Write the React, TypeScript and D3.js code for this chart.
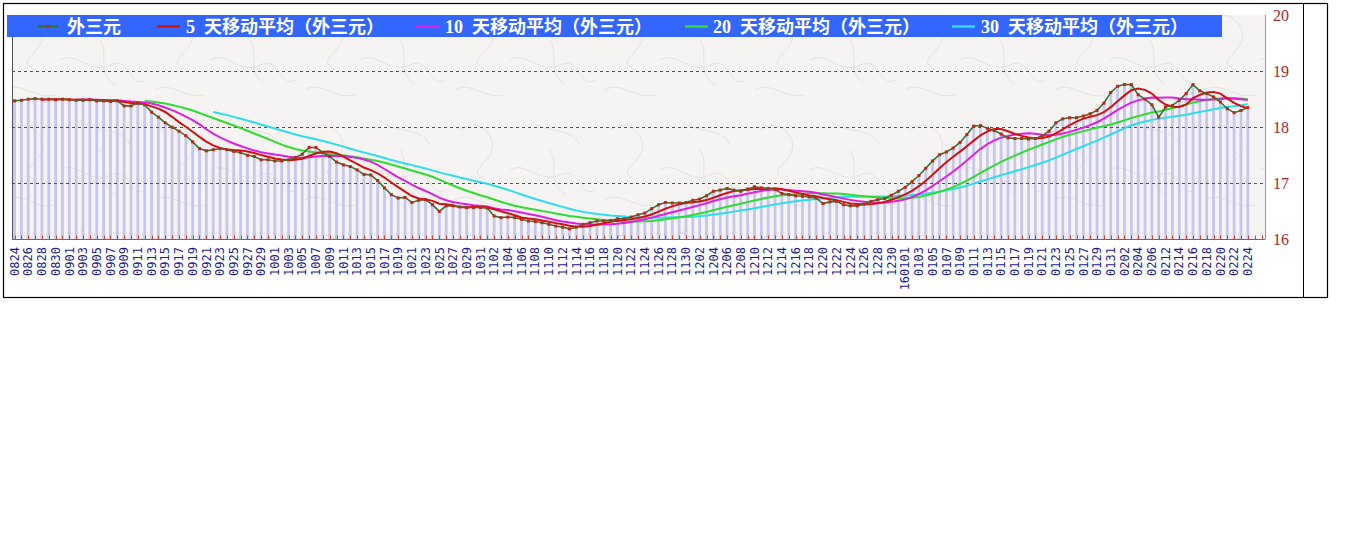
import React, { Component } from 'react';
import * as d3 from 'd3';

// 外三元 daily price, 0824 .. 0224
const price: number[] = [
  18.47, 18.48, 18.50, 18.51, 18.50, 18.50, 18.49, 18.50, 18.49, 18.48,
  18.48, 18.49, 18.47, 18.47, 18.46, 18.47, 18.38, 18.38, 18.43, 18.40,
  18.27, 18.18, 18.08, 18.00, 17.93, 17.85, 17.74, 17.62, 17.58, 17.60,
  17.62, 17.60, 17.57, 17.55, 17.50, 17.48, 17.42, 17.42, 17.40, 17.40,
  17.42, 17.46, 17.52, 17.64, 17.64, 17.55, 17.48, 17.38, 17.33, 17.30,
  17.24, 17.16, 17.15, 17.05, 16.92, 16.80, 16.74, 16.75, 16.66, 16.70,
  16.71, 16.62, 16.50, 16.60, 16.60, 16.58, 16.57, 16.57, 16.57, 16.56,
  16.42, 16.39, 16.40, 16.39, 16.36, 16.33, 16.32, 16.30, 16.27, 16.24,
  16.22, 16.19, 16.22, 16.27, 16.30, 16.33, 16.33, 16.34, 16.37, 16.37,
  16.40, 16.44, 16.47, 16.55, 16.62, 16.66, 16.65, 16.65, 16.66, 16.70,
  16.72, 16.78, 16.86, 16.88, 16.91, 16.88, 16.86, 16.90, 16.94, 16.92,
  16.91, 16.89, 16.82, 16.80, 16.78, 16.77, 16.76, 16.74, 16.64, 16.67,
  16.68, 16.62, 16.60, 16.60, 16.63, 16.68, 16.71, 16.73, 16.79, 16.86,
  16.93, 17.03, 17.14, 17.27, 17.40, 17.51, 17.56, 17.63, 17.73, 17.87,
  18.02, 18.03, 17.98, 17.94, 17.88, 17.81, 17.80, 17.80, 17.79, 17.80,
  17.85, 17.93, 18.08, 18.15, 18.17, 18.17, 18.20, 18.24, 18.30, 18.43,
  18.62, 18.73, 18.76, 18.76, 18.58, 18.50, 18.40, 18.18, 18.36, 18.39,
  18.48, 18.60, 18.76, 18.65, 18.60, 18.54, 18.45, 18.33, 18.26, 18.30,
  18.35
];

// every other day gets a label
const tickLabels: string[] = [
  '0824', '0826', '0828', '0830',
  '0901', '0903', '0905', '0907', '0909', '0911', '0913', '0915', '0917', '0919', '0921', '0923', '0925', '0927', '0929',
  '1001', '1003', '1005', '1007', '1009', '1011', '1013', '1015', '1017', '1019', '1021', '1023', '1025', '1027', '1029', '1031',
  '1102', '1104', '1106', '1108', '1110', '1112', '1114', '1116', '1118', '1120', '1122', '1124', '1126', '1128', '1130',
  '1202', '1204', '1206', '1208', '1210', '1212', '1214', '1216', '1218', '1220', '1222', '1224', '1226', '1228', '1230',
  '160101', '0103', '0105', '0107', '0109', '0111', '0113', '0115', '0117', '0119', '0121', '0123', '0125', '0127', '0129', '0131',
  '0202', '0204', '0206', '0212', '0214', '0216', '0218', '0220', '0222', '0224'
];

const slotCount = 183;
const maWindows = [5, 10, 20, 30];
const seriesNames = ['外三元', '5 天移动平均（外三元）', '10 天移动平均（外三元）', '20 天移动平均（外三元）', '30 天移动平均（外三元）'];
const seriesColors = ['#2f7a2a', '#d41010', '#e020e0', '#30dc30', '#30dcee'];
const yTicks = [16, 17, 18, 19, 20];
const gridValues = [17, 18, 19];

class App extends Component {
  svgRef = React.createRef<SVGSVGElement>();

  componentDidMount() {
    this.renderChart();
  }

  renderChart() {
    const svg = d3.select(this.svgRef.current);
    svg.selectAll('*').remove();

    const plot = { left: 12, right: 1265, top: 15, bottom: 239.5 };

    const x = d3.scaleLinear().domain([0, slotCount - 1]).range([14.5, 1261.5]);
    const y = d3.scaleLinear().domain([16, 20]).range([plot.bottom, plot.top]);

    // paper texture
    const defs = svg.append('defs');
    const pat = defs.append('pattern')
      .attr('id', 'paper')
      .attr('patternUnits', 'userSpaceOnUse')
      .attr('width', 150).attr('height', 110);
    pat.append('rect').attr('width', 150).attr('height', 110).attr('fill', '#f5f4f3');
    const curls = [
      'M10,20 C30,5 50,30 40,45 S20,60 35,70',
      'M80,10 C95,25 120,15 130,35',
      'M60,60 C75,50 90,75 110,65 S130,90 145,80',
      'M5,90 C20,80 35,100 55,95',
      'M100,40 C110,55 95,70 115,85'
    ];
    pat.selectAll('path').data(curls).join('path')
      .attr('d', d => d)
      .attr('fill', 'none')
      .attr('stroke', '#dddbd9')
      .attr('stroke-width', 0.7);

    // outer frame
    svg.append('rect').attr('x', 3.5).attr('y', 3.5).attr('width', 1324).attr('height', 294)
      .attr('fill', '#fff').attr('stroke', '#000').attr('stroke-width', 1.2);
    svg.append('line').attr('x1', 1303.5).attr('x2', 1303.5).attr('y1', 3.5).attr('y2', 297.5)
      .attr('stroke', '#000');

    // plot background
    svg.append('rect')
      .attr('x', plot.left).attr('y', plot.top)
      .attr('width', plot.right - plot.left).attr('height', plot.bottom - plot.top)
      .attr('fill', 'url(#paper)');
    svg.append('line').attr('x1', plot.left + 0.5).attr('x2', plot.left + 0.5)
      .attr('y1', plot.top).attr('y2', plot.bottom).attr('stroke', '#555');
    svg.append('line').attr('x1', plot.right + 0.5).attr('x2', plot.right + 0.5)
      .attr('y1', plot.top).attr('y2', plot.bottom).attr('stroke', '#999');

    // light bars under the price
    svg.append('g').attr('fill', '#c6c6f0')
      .selectAll('rect').data(price).join('rect')
      .attr('x', (d, i) => x(i) - 1.4)
      .attr('width', 2.8)
      .attr('y', d => y(d))
      .attr('height', d => plot.bottom - y(d));

    // dashed grid
    svg.append('g').selectAll('line').data(gridValues).join('line')
      .attr('x1', plot.left).attr('x2', plot.right)
      .attr('y1', d => Math.round(y(d)) + 0.5).attr('y2', d => Math.round(y(d)) + 0.5)
      .attr('stroke', '#8a2a8a').attr('stroke-dasharray', '3,3');

    // bottom axis with red ticks
    svg.append('line').attr('x1', plot.left).attr('x2', plot.right)
      .attr('y1', plot.bottom).attr('y2', plot.bottom)
      .attr('stroke', '#d04040');
    svg.append('g').attr('stroke', '#d04040')
      .selectAll('line').data(d3.range(slotCount)).join('line')
      .attr('x1', d => Math.round(x(d)) + 0.5).attr('x2', d => Math.round(x(d)) + 0.5)
      .attr('y1', plot.bottom - 4).attr('y2', plot.bottom);

    // date labels, rotated
    svg.append('g')
      .attr('font-family', '"DejaVu Sans Mono", monospace')
      .attr('font-size', 12)
      .attr('fill', '#1c1c96')
      .selectAll('text').data(tickLabels).join('text')
      .attr('transform', (d, k) => `translate(${x(k * 2)},247) rotate(-90)`)
      .attr('text-anchor', 'end')
      .attr('dy', '0.35em')
      .text(d => d);

    // right value axis
    svg.append('g')
      .attr('font-family', '"Liberation Serif", serif')
      .attr('font-size', 16)
      .attr('fill', '#b02828')
      .selectAll('text').data(yTicks).join('text')
      .attr('x', 1273)
      .attr('y', d => y(d))
      .attr('dy', '0.35em')
      .text(d => d);

    // moving averages
    const movingAvg = (n: number) => price.map((d, i) =>
      i < n - 1 ? null : (d3.mean(price.slice(i - n + 1, i + 1)) as number));
    const line = d3.line<number | null>()
      .defined(d => d !== null)
      .x((d, i) => x(i))
      .y(d => y(d as number));

    const maSeries = maWindows.map(n => movingAvg(n));
    // draw 30 first so shorter ones sit on top
    for (let k = maSeries.length - 1; k >= 0; k--) {
      svg.append('path')
        .datum(maSeries[k])
        .attr('d', line)
        .attr('fill', 'none')
        .attr('stroke', seriesColors[k + 1])
        .attr('stroke-width', 2);
    }

    // price line with red dots
    svg.append('path')
      .datum(price)
      .attr('d', line as any)
      .attr('fill', 'none')
      .attr('stroke', seriesColors[0])
      .attr('stroke-width', 1.6);
    svg.append('g').attr('fill', '#cc1f1f')
      .selectAll('rect').data(price).join('rect')
      .attr('x', (d, i) => x(i) - 1.5)
      .attr('y', d => y(d) - 1.5)
      .attr('width', 3).attr('height', 3);

    // legend
    const legend = svg.append('g');
    legend.append('rect').attr('x', 7).attr('y', 15).attr('width', 1215).attr('height', 22)
      .attr('fill', '#3366ff');
    const legendPos = [
      { x1: 38, x2: 58, tx: 67 },
      { x1: 157, x2: 180, tx: 186 },
      { x1: 415, x2: 440, tx: 445 },
      { x1: 685, x2: 708, tx: 713 },
      { x1: 952, x2: 975, tx: 981 }
    ];
    seriesNames.forEach((name, k) => {
      const p = legendPos[k];
      legend.append('line').attr('x1', p.x1).attr('x2', p.x2).attr('y1', 26.5).attr('y2', 26.5)
        .attr('stroke', seriesColors[k]).attr('stroke-width', 2.5);
      if (k === 0) {
        legend.append('rect').attr('x', (p.x1 + p.x2) / 2 - 1.5).attr('y', 25).attr('width', 3).attr('height', 3)
          .attr('fill', '#cc1f1f');
      }
      legend.append('text')
        .attr('x', p.tx).attr('y', 26.5).attr('dy', '0.36em')
        .attr('font-family', '"Liberation Serif", "Noto Sans CJK SC", serif')
        .attr('font-size', 18)
        .attr('font-weight', 'bold')
        .attr('fill', '#fff')
        .attr('xml:space', 'preserve')
        .text(name.replace(' ', '  '));
    });
  }

  render() {
    return (
      <svg
        ref={this.svgRef}
        width={1348}
        height={541}
        style={{ position: 'absolute', left: 0, top: 0, background: '#fff' }}
      />
    );
  }
}

export default App;
